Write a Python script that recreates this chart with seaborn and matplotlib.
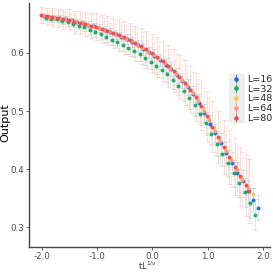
import matplotlib

matplotlib.use("Agg")
import matplotlib.pyplot as plt
import seaborn as sns
from matplotlib.patches import Rectangle

# ---- data ----
labels = ["L=16", "L=32", "L=48", "L=64", "L=80"]
colors = ["#1f63e0", "#12a86b", "#fbc45a", "#fc9a83", "#f5494f"]

x16 = [-1.96, -1.86, -1.76, -1.66, -1.56, -1.46, -1.36, -1.26, -1.16, -1.06,
       -0.96, -0.86, -0.76, -0.66, -0.56, -0.46, -0.36, -0.26, -0.16, -0.06,
       0.04, 0.14, 0.24, 0.34, 0.44, 0.54, 0.64, 0.74, 0.84, 0.94,
       1.04, 1.14, 1.24, 1.34, 1.44, 1.54, 1.64, 1.74, 1.83, 1.92]
y16 = [0.664, 0.662, 0.661, 0.660, 0.658, 0.656, 0.654, 0.651, 0.649, 0.646,
       0.643, 0.640, 0.636, 0.632, 0.628, 0.624, 0.619, 0.613, 0.607, 0.601,
       0.595, 0.588, 0.580, 0.572, 0.562, 0.552, 0.541, 0.529, 0.514, 0.497,
       0.478, 0.462, 0.445, 0.428, 0.411, 0.394, 0.379, 0.362, 0.347, 0.334]
e16 = [0.004, 0.004, 0.004, 0.005, 0.005, 0.005, 0.005, 0.006, 0.006, 0.006,
       0.007, 0.007, 0.007, 0.008, 0.008, 0.008, 0.009, 0.009, 0.010, 0.010,
       0.011, 0.011, 0.012, 0.012, 0.013, 0.013, 0.014, 0.014, 0.015, 0.015,
       0.016, 0.016, 0.017, 0.018, 0.018, 0.019, 0.020, 0.020, 0.021, 0.022]

x32 = [-1.93, -1.83, -1.73, -1.63, -1.53, -1.43, -1.33, -1.23, -1.13, -1.03,
       -0.93, -0.83, -0.73, -0.63, -0.53, -0.43, -0.33, -0.23, -0.13, -0.03,
       0.07, 0.17, 0.27, 0.37, 0.47, 0.57, 0.67, 0.77, 0.87, 0.97,
       1.07, 1.17, 1.27, 1.37, 1.47, 1.57, 1.67, 1.77, 1.86]
y32 = [0.661, 0.659, 0.658, 0.655, 0.653, 0.650, 0.647, 0.644, 0.640, 0.636,
       0.632, 0.628, 0.623, 0.619, 0.614, 0.609, 0.604, 0.598, 0.592, 0.585,
       0.578, 0.571, 0.563, 0.554, 0.544, 0.534, 0.522, 0.510, 0.495, 0.479,
       0.461, 0.444, 0.427, 0.410, 0.393, 0.376, 0.360, 0.342, 0.322]
e32 = [0.004, 0.005, 0.005, 0.005, 0.006, 0.006, 0.006, 0.007, 0.007, 0.008,
       0.008, 0.009, 0.009, 0.010, 0.010, 0.011, 0.011, 0.012, 0.012, 0.013,
       0.014, 0.014, 0.015, 0.016, 0.016, 0.017, 0.018, 0.018, 0.019, 0.020,
       0.020, 0.021, 0.022, 0.023, 0.023, 0.024, 0.025, 0.026, 0.027]

x48 = [-1.99, -1.89, -1.79, -1.69, -1.59, -1.49, -1.39, -1.29, -1.19, -1.09,
       -0.99, -0.89, -0.79, -0.69, -0.59, -0.49, -0.39, -0.29, -0.19, -0.09,
       0.01, 0.11, 0.21, 0.31, 0.41, 0.51, 0.61, 0.71, 0.81, 0.91,
       1.01, 1.11, 1.21, 1.31, 1.41, 1.51, 1.61, 1.71, 1.82]
y48 = [0.665, 0.664, 0.662, 0.661, 0.660, 0.657, 0.655, 0.653, 0.650, 0.647,
       0.645, 0.642, 0.638, 0.635, 0.631, 0.626, 0.622, 0.617, 0.611, 0.605,
       0.599, 0.592, 0.585, 0.577, 0.568, 0.558, 0.547, 0.536, 0.522, 0.506,
       0.489, 0.471, 0.453, 0.436, 0.419, 0.402, 0.386, 0.371, 0.357]
e48 = [0.008, 0.008, 0.009, 0.009, 0.010, 0.010, 0.011, 0.011, 0.012, 0.012,
       0.013, 0.013, 0.014, 0.015, 0.015, 0.016, 0.016, 0.017, 0.018, 0.018,
       0.019, 0.020, 0.020, 0.021, 0.022, 0.023, 0.024, 0.024, 0.025, 0.026,
       0.027, 0.028, 0.029, 0.030, 0.031, 0.032, 0.033, 0.034, 0.035]

x64 = [-1.97, -1.87, -1.77, -1.67, -1.57, -1.47, -1.37, -1.27, -1.17, -1.07,
       -0.97, -0.87, -0.77, -0.67, -0.57, -0.47, -0.37, -0.27, -0.17, -0.07,
       0.03, 0.13, 0.23, 0.33, 0.43, 0.53, 0.63, 0.73, 0.83, 0.93,
       1.03, 1.13, 1.23, 1.33, 1.43, 1.53, 1.63, 1.73]
y64 = [0.664, 0.662, 0.661, 0.660, 0.658, 0.656, 0.653, 0.651, 0.649, 0.646,
       0.643, 0.640, 0.637, 0.633, 0.629, 0.624, 0.620, 0.614, 0.608, 0.602,
       0.596, 0.589, 0.582, 0.573, 0.564, 0.554, 0.543, 0.531, 0.517, 0.501,
       0.484, 0.466, 0.449, 0.432, 0.415, 0.398, 0.382, 0.367]
e64 = [0.012, 0.012, 0.013, 0.014, 0.014, 0.015, 0.016, 0.017, 0.018, 0.019,
       0.020, 0.021, 0.022, 0.023, 0.024, 0.025, 0.026, 0.027, 0.028, 0.029,
       0.030, 0.031, 0.032, 0.033, 0.034, 0.035, 0.036, 0.037, 0.038, 0.039,
       0.040, 0.041, 0.042, 0.043, 0.045, 0.046, 0.048, 0.050]

x80 = [-2.01, -1.91, -1.81, -1.71, -1.61, -1.51, -1.41, -1.31, -1.21, -1.11,
       -1.01, -0.91, -0.81, -0.71, -0.61, -0.51, -0.41, -0.31, -0.21, -0.11,
       -0.01, 0.09, 0.19, 0.29, 0.39, 0.49, 0.59, 0.69, 0.79, 0.89,
       0.99, 1.09, 1.19, 1.29, 1.39, 1.49, 1.59, 1.69, 1.75]
y80 = [0.665, 0.663, 0.662, 0.660, 0.659, 0.657, 0.654, 0.652, 0.650, 0.647,
       0.645, 0.642, 0.638, 0.635, 0.631, 0.627, 0.623, 0.617, 0.612, 0.606,
       0.600, 0.593, 0.586, 0.578, 0.569, 0.559, 0.549, 0.537, 0.524, 0.509,
       0.491, 0.473, 0.455, 0.438, 0.421, 0.404, 0.388, 0.373, 0.362]
e80 = [0.014, 0.014, 0.015, 0.016, 0.017, 0.018, 0.019, 0.020, 0.021, 0.022,
       0.023, 0.024, 0.025, 0.026, 0.027, 0.028, 0.029, 0.030, 0.031, 0.032,
       0.033, 0.034, 0.035, 0.036, 0.037, 0.038, 0.039, 0.040, 0.041, 0.042,
       0.043, 0.044, 0.045, 0.046, 0.047, 0.049, 0.051, 0.053, 0.055]

xs = [x16, x32, x48, x64, x80]
ys = [y16, y32, y48, y64, y80]
errs = [e16, e32, e48, e64, e80]

xticks = [-2.0, -1.0, 0.0, 1.0, 2.0]
yticks = [0.3, 0.4, 0.5, 0.6]

sns.set_theme(style="white")
plt.rcParams["font.family"] = ["DejaVu Sans"]

fig = plt.figure(figsize=(2.73, 2.73), dpi=100)
ax = fig.add_axes([0.106, 0.095, 0.883, 0.894])

# error bars first (faint), then points on top
for x, y, e, c in zip(xs, ys, errs, colors):
    ax.errorbar(x, y, yerr=e, fmt="none", ecolor=c, alpha=0.22,
                elinewidth=0.6, capsize=1.8, capthick=0.6, zorder=1)

handles = []
for x, y, e, c, lab in zip(xs, ys, errs, colors, labels):
    sns.scatterplot(x=x, y=y, color=c, s=8, linewidth=0, alpha=0.95,
                    ax=ax, zorder=3)
    h = ax.errorbar([], [], yerr=[], fmt="o", color=c, ms=2.3,
                    elinewidth=0.6, label=lab)
    handles.append(h)

ax.set_xlim(-2.23, 2.13)
ax.set_ylim(0.266, 0.686)
ax.set_xticks(xticks)
ax.set_xticklabels([f"{t:.1f}" for t in xticks])
ax.set_yticks(yticks)
ax.set_yticklabels([f"{t:.1f}" for t in yticks])

for side in ["top", "right"]:
    ax.spines[side].set_visible(False)
for side in ["left", "bottom"]:
    ax.spines[side].set_color("#444444")
    ax.spines[side].set_linewidth(1.0)

ax.tick_params(axis="both", which="major", direction="out", length=2,
               width=0.6, color="#444444", labelsize=6.3,
               labelcolor="#4d4d4d", pad=1.2, left=True, bottom=True)
ax.set_xlabel(r"tL$^{1/\nu}$", fontsize=6, color="#333333")
ax.set_ylabel("Output", fontsize=8, color="black")
ax.xaxis.set_label_coords(0.49, -0.05)
ax.yaxis.set_label_coords(-0.078, 0.51)

# grey key background behind the legend handles
ax.add_patch(Rectangle((229 / 273, 1 - 123 / 273), 16 / 273, 49 / 273,
                       transform=fig.transFigure, facecolor="#ececec",
                       edgecolor="none", zorder=4, clip_on=False))

leg = ax.legend(handles=handles, labels=labels, loc="center left",
                bbox_to_anchor=(0.815, 0.607), frameon=False, fontsize=6.8,
                handlelength=0.9, handletextpad=0.7, labelspacing=0.08,
                borderpad=0.2)
leg.set_zorder(6)

fig.savefig("out.png", dpi=100)
plt.close(fig)
